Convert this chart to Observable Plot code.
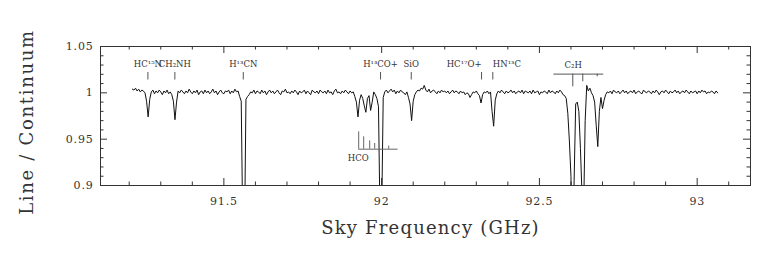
<!DOCTYPE html>
<html><head><meta charset="utf-8">
<script src="https://cdn.jsdelivr.net/npm/d3@7"></script>
<script src="https://cdn.jsdelivr.net/npm/@observablehq/plot@0.6"></script>
<style>
body{margin:0;background:#fff}
#chart{width:758px;height:274px}
</style></head><body><div id="chart"></div>
<script>
// Spectrum: channel grid and read-off residuals (units of 0.001 of continuum)
const channelStartGHz = 91.21;
const channelWidthGHz = 0.005;
const residualMilli = [
  4,3,5,2,4,1,3,2,0,-9,-26,-7,1,3,-1,2,0,3,1,-2,
  2,0,3,-1,1,-2,-9,-29,-10,2,0,3,1,-1,2,0,4,1,-1,2,
  0,3,-2,1,2,-1,3,0,2,-1,1,4,0,2,-2,1,3,0,-1,2,
  1,3,-1,2,0,4,1,2,-4,-9,-150,-170,-7,-4,-2,1,0,3,-1,2,
  1,-1,3,0,2,-2,1,3,0,2,-1,1,3,0,-2,2,1,4,0,1,
  -1,2,0,3,1,-2,2,0,1,3,-1,2,0,-2,3,1,0,2,-1,3,
  1,0,2,-1,3,0,1,-2,2,4,0,1,-1,2,0,3,1,-1,2,0,
  1,-4,-10,-26,-8,-2,-6,-14,-21,-6,-3,-19,-10,1,-2,-6,-15,-140,-135,-5,
  1,3,0,2,4,1,3,-1,2,0,3,1,0,-2,1,-5,-12,-30,-9,-2,
  1,3,2,5,4,8,3,1,4,0,2,3,1,-1,2,0,3,1,2,0,
  2,-1,1,3,0,2,1,-1,2,0,1,-2,0,-1,-5,-2,1,0,2,-1,
  -3,-11,-2,1,0,2,-1,1,-20,-36,-8,-1,2,0,3,1,-1,2,0,1,
  3,0,2,-1,1,2,0,3,-1,2,1,0,2,-1,3,0,1,2,-2,1,
  0,2,1,-1,3,0,2,1,-1,2,0,3,1,-2,-3,-6,-22,-52,-90,-200,
  -95,-12,-10,-20,-60,-110,-130,-30,8,2,5,0,-3,-10,-35,-58,-20,-5,-17,-8,
  -2,1,0,2,-1,3,1,0,2,-1,1,3,0,2,-1,1,2,0,3,-1,
  1,2,0,-1,3,1,0,2,1,-1,2,0,3,1,-2,1,2,0,3,1,
  -1,2,0,1,3,0,2,-1,1,2,0,3,1,-1,2,0,1,2,-1,2,
  0,3,1,2,-1,1,0,2,1,-1,2,0
];

// Axis ticks
const xMajorTicks = [91.5, 92, 92.5, 93];
const xMinorTicks = [91.2, 91.3, 91.4, 91.6, 91.7, 91.8, 91.9, 92.1, 92.2, 92.3, 92.4, 92.6, 92.7, 92.8, 92.9, 93.1];
const yMajorTicks = [0.9, 0.95, 1, 1.05];
const yMinorTicks = [0.91, 0.92, 0.93, 0.94, 0.96, 0.97, 0.98, 0.99, 1.01, 1.02, 1.03, 1.04];

// Axis titles
const xTitle = "Sky Frequency (GHz)";
const yTitle = "Line / Continuum";

// Line identifications
const lineNames = ["HC¹⁵N", "CH₂NH", "H¹³CN", "H¹³CO+", "SiO", "HC¹⁷O+", "HN¹³C"];
const lineFreqs = [91.2592, 91.3447, 91.5615, 91.9965, 92.0938, 92.3166, 92.3523];

// C2H hyperfine group
const c2hName = "C₂H";
const c2hLabelFreq = 92.607;
const c2hBarFreqs = [92.546, 92.704];
const c2hBarLevel = 1.0202;
const c2hCompFreqs = [92.6058, 92.6375, 92.6831];
const c2hCompLevels = [1.0065, 1.0119, 1.0173];

// HCO hyperfine inset
const hcoName = "HCO";
const hcoLabelFreq = 91.926;
const hcoLabelLevel = 0.9292;
const hcoBarFreqs = [91.9273, 92.0521];
const hcoBarLevel = 0.9392;
const hcoCompFreqs = [91.9273, 91.9431, 91.9621, 91.978, 92.0223];
const hcoCompLevels = [0.9579, 0.9525, 0.9482, 0.9454, 0.9425];

const spectrum = residualMilli.map((r, i) => ({f: channelStartGHz + i * channelWidthGHz, v: 1 + r / 1000}));
const lines = lineNames.map((name, i) => ({name, freq: lineFreqs[i]}));
const shiftedLeft = ["HC¹⁷O+"], shiftedRight = ["HN¹³C"];

const W = 758, H = 274, mL = 100, mR = 8, mT = 46, mB = 89;
const FW = W - mL - mR, FH = H - mT - mB;
const ink = "#333", fnt = "DejaVu Serif";
const majorLen = 7, minorLen = 3.5;
const labelSize = 8.5;

const chart = Plot.plot({
  width: W, height: H,
  marginLeft: mL, marginRight: mR, marginTop: mT, marginBottom: mB,
  style: {fontFamily: fnt, fontSize: "11px", color: ink, background: "#fff"},
  x: {domain: [91.109, 93.169]},
  y: {domain: [0.9, 1.05]},
  marks: [
    Plot.frame({stroke: ink}),
    // inward ticks on all four sides
    Plot.tickX(xMajorTicks, {x: d => d, insetTop: FH - majorLen, stroke: ink}),
    Plot.tickX(xMajorTicks, {x: d => d, insetBottom: FH - majorLen, stroke: ink}),
    Plot.tickX(xMinorTicks, {x: d => d, insetTop: FH - minorLen, stroke: ink}),
    Plot.tickX(xMinorTicks, {x: d => d, insetBottom: FH - minorLen, stroke: ink}),
    Plot.tickY(yMajorTicks, {y: d => d, insetRight: FW - majorLen, stroke: ink}),
    Plot.tickY(yMajorTicks, {y: d => d, insetLeft: FW - majorLen, stroke: ink}),
    Plot.tickY(yMinorTicks, {y: d => d, insetRight: FW - minorLen, stroke: ink}),
    Plot.tickY(yMinorTicks, {y: d => d, insetLeft: FW - minorLen, stroke: ink}),
    Plot.axisX({ticks: xMajorTicks, tickSize: 0, tickPadding: 12, tickFormat: d => String(d), label: null, fill: ink}),
    Plot.axisY({ticks: yMajorTicks, tickSize: 0, tickPadding: 7, tickFormat: d => String(d), label: null, fill: ink}),
    Plot.text([xTitle], {frameAnchor: "bottom", dy: 43, dx: 5, fontSize: 18, fill: ink, textAnchor: "middle", lineAnchor: "middle"}),
    Plot.text([yTitle], {frameAnchor: "left", rotate: -90, dx: -73, dy: 6, fontSize: 18, fill: ink, textAnchor: "middle", lineAnchor: "middle"}),
    // spectrum
    Plot.line(spectrum, {x: "f", y: "v", stroke: "#111", strokeWidth: 1, clip: true}),
    // line identifications
    Plot.tickX(lines, {x: "freq", insetTop: 26, insetBottom: 105.5, stroke: "#555"}),
    Plot.text(lines.filter(d => !shiftedLeft.includes(d.name) && !shiftedRight.includes(d.name)), {x: "freq", text: "name", frameAnchor: "top", dy: 18, fontSize: labelSize, fill: ink, lineAnchor: "middle"}),
    Plot.text(lines.filter(d => shiftedLeft.includes(d.name)), {x: "freq", text: "name", frameAnchor: "top", dy: 18, fontSize: labelSize, fill: ink, textAnchor: "end", lineAnchor: "middle"}),
    Plot.text(lines.filter(d => shiftedRight.includes(d.name)), {x: "freq", text: "name", frameAnchor: "top", dy: 18, fontSize: labelSize, fill: ink, textAnchor: "start", lineAnchor: "middle"}),
    // C2H group marker
    Plot.text([c2hName], {x: c2hLabelFreq, frameAnchor: "top", dy: 19, fontSize: labelSize, fill: ink, lineAnchor: "middle"}),
    Plot.ruleY([c2hBarLevel], {x1: c2hBarFreqs[0], x2: c2hBarFreqs[1], stroke: "#555"}),
    Plot.ruleX(c2hCompFreqs, {x: d => d, y1: c2hBarLevel, y2: (d, i) => c2hCompLevels[i], stroke: "#555"}),
    // HCO inset
    Plot.ruleY([hcoBarLevel], {x1: hcoBarFreqs[0], x2: hcoBarFreqs[1], stroke: "#666"}),
    Plot.ruleX(hcoCompFreqs, {x: d => d, y1: hcoBarLevel, y2: (d, i) => hcoCompLevels[i], stroke: "#666"}),
    Plot.text([hcoName], {x: hcoLabelFreq, y: hcoLabelLevel, fontSize: labelSize, fill: ink})
  ]
});
// letter spacing to match the wide plotter font of the original
chart.querySelectorAll("text").forEach(t => {
  const s = t.textContent;
  if (s === xTitle) t.setAttribute("letter-spacing", "1.2");
  else if (s === yTitle) t.setAttribute("letter-spacing", "1.7");
  else if (/^[0-9.]+$/.test(s)) t.setAttribute("letter-spacing", "0.8");
});
document.getElementById("chart").appendChild(chart);
</script></body></html>
